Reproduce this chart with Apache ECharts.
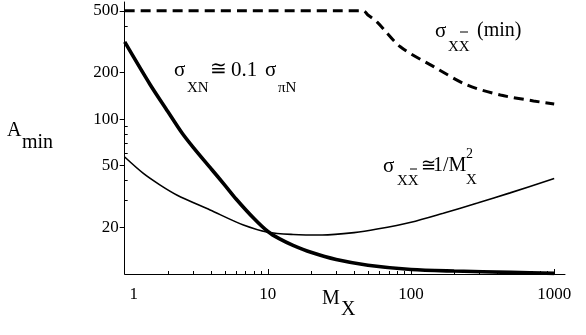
<!DOCTYPE html>
<html>
<head>
<meta charset="utf-8">
<script src="https://cdn.jsdelivr.net/npm/echarts@6/dist/echarts.min.js"></script>
<style>
html, body { margin: 0; padding: 0; background: #fff; }
#main { width: 586px; height: 335px; }
</style>
</head>
<body>
<div id="main"></div>
<script>
// values (log-log axes)
var xMajor = [1, 10, 100, 1000];
var xMinor = [2, 3, 4, 5, 6, 7, 8, 9, 20, 30, 40, 50, 60, 70, 80, 90, 200, 300, 400, 500, 600, 700, 800, 900];
var yMajor = [20, 50, 100, 200, 500];
var yMinor = [30, 40, 60, 70, 80, 90, 300, 400];

// sigma_XN ~ 0.1 sigma_piN (thick)
var xnM = [1, 1.5, 2, 2.5, 3, 4, 5, 6, 8, 10, 12, 15, 20, 30, 50, 100, 200, 500, 1000];
var xnA = [315, 168, 112, 82, 66, 48, 37.5, 30.5, 22.8, 18.8, 16.9, 15.3, 13.8, 12.4, 11.4, 10.7, 10.45, 10.25, 10.1];

// sigma_XXbar ~ 1/M^2 (thin)
var xxM = [1, 1.35, 1.77, 2.31, 3.95, 6.75, 10, 15, 24, 40, 58, 100, 168, 291, 492, 1000];
var xxA = [56.9, 44.6, 37.5, 32.4, 25.9, 20.7, 18.6, 18.0, 17.85, 18.5, 19.5, 21.6, 24.7, 28.7, 33.4, 41.4];

// sigma_XXbar (min) (dashed)
var minM = [1, 10, 30, 46.4, 50, 57.8, 84.2, 144, 246, 421, 717, 1000];
var minA = [500, 500, 500, 500, 470, 424, 293, 218, 166, 143, 131, 125];

function pairs(xs, ys) {
    return xs.map(function (x, i) { return [x, ys[i]]; });
}

var serif = '"Liberation Serif", "DejaVu Serif", serif';

function txt(x, y, s, size) {
    return {
        type: 'text', x: x, y: y, z: 10,
        style: { text: s, fill: '#000', font: size + 'px ' + serif, verticalAlign: 'middle', align: 'left' }
    };
}
function bar(x1, x2, y) {
    return { type: 'line', z: 10, shape: { x1: x1, y1: y, x2: x2, y2: y }, style: { stroke: '#000', lineWidth: 1 } };
}

var myChart = echarts.init(document.getElementById('main'));
var option = {
    backgroundColor: '#fff',
    animation: false,
    grid: { left: 124.7, right: 21, top: 2, bottom: 61 },
    xAxis: [
        {
            type: 'log', logBase: 10, min: 1, max: 1190, position: 'bottom',
            axisLine: { lineStyle: { color: '#000', width: 1 } },
            axisTick: { inside: true, length: 5, customValues: xMajor, lineStyle: { color: '#000' } },
            axisLabel: {
                customValues: xMajor, margin: 12, color: '#000', fontSize: 17, fontFamily: serif,
                formatter: function (v) { return v === 1 ? '{a|1}' : String(v); },
                rich: { a: { padding: [0, 0, 0, 18], fontSize: 17, fontFamily: serif, color: '#000' } }
            },
            splitLine: { show: false }
        },
        {
            type: 'log', logBase: 10, min: 1, max: 1190, position: 'bottom',
            axisLine: { show: false },
            axisTick: { inside: true, length: 3, customValues: xMinor, lineStyle: { color: '#000' } },
            axisLabel: { show: false },
            splitLine: { show: false }
        }
    ],
    yAxis: [
        {
            type: 'log', logBase: 10, min: 10, max: 570, position: 'left',
            axisLine: { show: true, lineStyle: { color: '#000', width: 1 } },
            axisTick: { show: true, inside: false, length: 5, customValues: yMajor, lineStyle: { color: '#000' } },
            axisLabel: { customValues: yMajor, margin: 6, color: '#000', fontSize: 17, fontFamily: serif },
            splitLine: { show: false }
        },
        {
            type: 'log', logBase: 10, min: 10, max: 570, position: 'left',
            axisLine: { show: false },
            axisTick: { show: true, inside: true, length: 3, customValues: yMinor, lineStyle: { color: '#000' } },
            axisLabel: { show: false },
            splitLine: { show: false }
        }
    ],
    series: [
        {
            type: 'line', data: pairs(minM, minA), showSymbol: false, smooth: 0.3,
            lineStyle: { color: '#000', width: 3, type: [10, 6] }
        },
        {
            type: 'line', data: pairs(xxM, xxA), showSymbol: false, smooth: 0.3,
            lineStyle: { color: '#000', width: 1.6 }
        },
        {
            type: 'line', data: pairs(xnM, xnA), showSymbol: false, smooth: 0.3,
            lineStyle: { color: '#000', width: 3.6 }
        }
    ],
    graphic: [
        // A_min
        txt(7, 131, 'A', 20), txt(22, 143, 'min', 20),
        // M_X
        txt(322, 299, 'M', 20), txt(341, 310, 'X', 20),
        // sigma_XN ~ 0.1 sigma_piN
        txt(174, 70, 'σ', 21), txt(187, 88, 'XN', 15), txt(210, 70, '≅', 20),
        txt(231, 70, '0.1', 21), txt(265, 70, 'σ', 21), txt(278, 88, 'πN', 15),
        // sigma_XXbar (min)
        txt(435, 31, 'σ', 21), txt(448, 47, 'XX', 15), bar(460, 468, 32), txt(477, 31, '(min)', 20),
        // sigma_XXbar ~ 1/M_X^2
        txt(383, 166, 'σ', 21), txt(397, 181, 'XX', 15), bar(410, 417, 169),
        txt(421, 166, '≅', 18), txt(433, 166, '1/M', 20), txt(466, 154, '2', 14), txt(466, 180, 'X', 15)
    ]
};
myChart.setOption(option);
window.onresize = myChart.resize;
</script>
</body>
</html>
